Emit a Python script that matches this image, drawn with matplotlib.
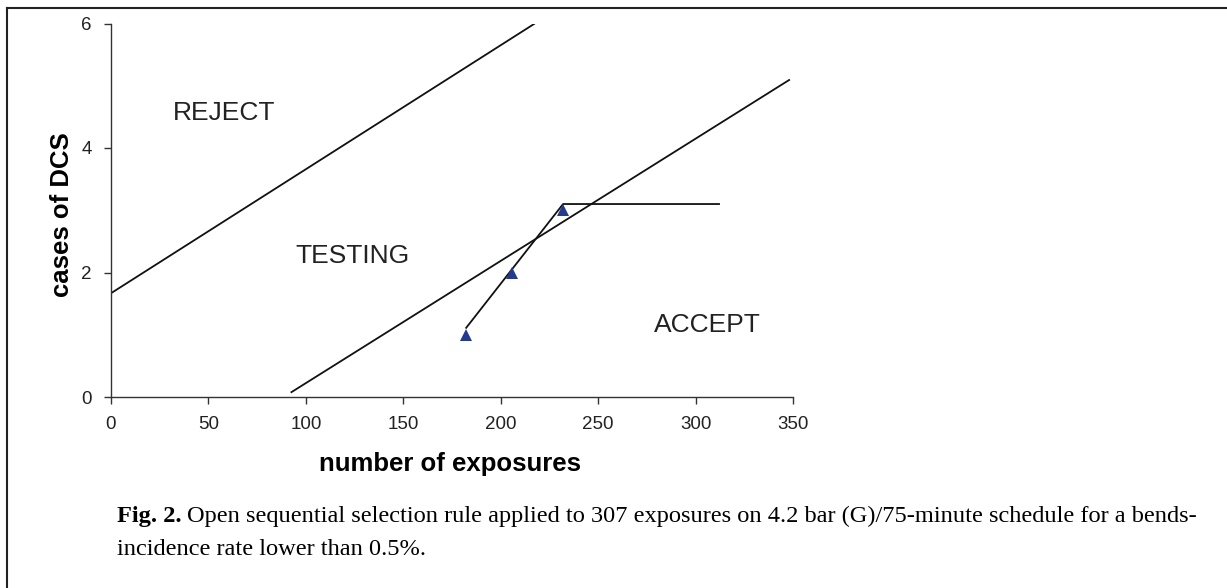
import matplotlib
matplotlib.use("Agg")
import matplotlib.pyplot as plt
from matplotlib.lines import Line2D

# Data
reject_x = [0, 217.5]
reject_y = [1.667, 6.0]
accept_x = [92.2, 348.4]
accept_y = [0.07, 5.10]
path_x = [182, 232, 312.5]
path_y = [1.10, 3.10, 3.10]
obs_x = [182, 206, 232]
obs_y = [1, 2, 3]
xticks = [0, 50, 100, 150, 200, 250, 300, 350]
yticks = [0, 2, 4, 6]
regions = [("REJECT", 58, 4.57), ("TESTING", 124, 2.27), ("ACCEPT", 306, 1.16)]

W, H = 1227, 588
fig = plt.figure(figsize=(W / 100, H / 100), dpi=100)
ax = fig.add_axes([111 / W, 1 - 397 / H, (793 - 111) / W, (397 - 23.5) / H])

lc = "#111111"
ax.plot(reject_x, reject_y, color=lc, lw=1.3, solid_capstyle="butt")
ax.plot(accept_x, accept_y, color=lc, lw=1.3, solid_capstyle="butt")
ax.plot(path_x, path_y, color=lc, lw=1.3, solid_capstyle="butt")
ax.plot(obs_x, obs_y, linestyle="none", marker="^", markersize=9,
        color="#233a8f", markeredgewidth=0)

for label, x, y in regions:
    ax.text(x, y, label, ha="center", va="center", fontsize=19,
            family="Liberation Sans", color="#222222")

ax.set_xlim(0, 350)
ax.set_ylim(0, 6)
ax.set_xticks(xticks)
ax.set_yticks(yticks)
ax.spines["top"].set_visible(False)
ax.spines["right"].set_visible(False)
for s in ("left", "bottom"):
    ax.spines[s].set_color("#333333")
    ax.spines[s].set_linewidth(1.0)
ax.tick_params(direction="out", length=5, width=1.0, colors="#333333",
               labelcolor="#222222", labelsize=13.5, pad=9)
for t in ax.get_xticklabels() + ax.get_yticklabels():
    t.set_family("Liberation Sans")

fig.text(450 / W, 1 - 471 / H, "number of exposures", fontsize=18.5,
         fontweight="bold", family="Liberation Sans", ha="center", va="baseline")
fig.text(62 / W, 1 - 215 / H, "cases of DCS", fontsize=18.5, rotation=90,
         fontweight="bold", family="Liberation Sans", ha="center", va="center")

# Outer frame (top and left edges visible)
fig.add_artist(Line2D([7 / W, 7 / W], [0, 1 - 8 / H], transform=fig.transFigure,
                      color="#222222", lw=1.5))
fig.add_artist(Line2D([7 / W, 1], [1 - 8 / H, 1 - 8 / H], transform=fig.transFigure,
                      color="#222222", lw=1.5))

# Caption
cap_fs = 17.6
cap1 = fig.text(117 / W, 1 - 522 / H, "Fig. 2.", fontsize=cap_fs, fontweight="bold",
                family="Liberation Serif", va="baseline", ha="left")
fig.canvas.draw()
bb = cap1.get_window_extent()
fig.text((bb.x1 + 5) / W, 1 - 522 / H,
         "Open sequential selection rule applied to 307 exposures on 4.2 bar (G)/75-minute schedule for a bends-",
         fontsize=cap_fs, family="Liberation Serif", va="baseline", ha="left")
fig.text(117 / W, 1 - 555 / H, "incidence rate lower than 0.5%.", fontsize=cap_fs,
         family="Liberation Serif", va="baseline", ha="left")

fig.savefig("out.png", dpi=100)
